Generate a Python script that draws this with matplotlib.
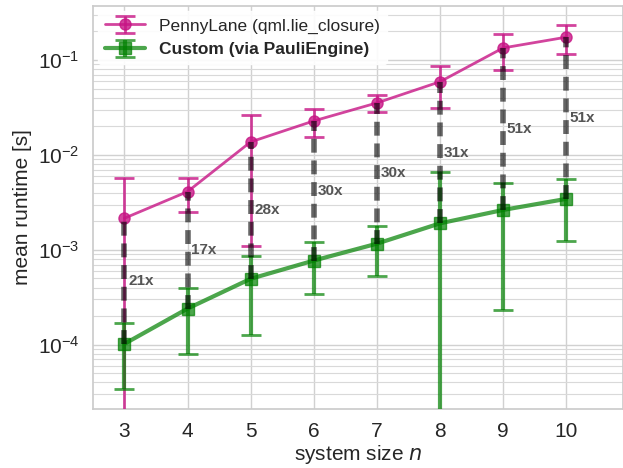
import numpy as np
import matplotlib
matplotlib.use("Agg")
import matplotlib.pyplot as plt
import seaborn as sns

sns.set_theme(style="whitegrid")
plt.rcParams['font.family'] = ['Liberation Sans', 'DejaVu Sans']

# system sizes
n = [3, 4, 5, 6, 7, 8, 9, 10]

# PennyLane (qml.lie_closure): mean and std of runtime [s]
pl_mean = [2.15e-3, 4.1e-3, 1.37e-2, 2.28e-2, 3.53e-2, 5.9e-2, 0.134, 0.174]
pl_std = [3.55e-3, 1.6e-3, 1.26e-2, 7.5e-3, 7.0e-3, 2.8e-2, 0.056, 0.059]

# Custom (via PauliEngine)
cu_mean = [1.02e-4, 2.4e-4, 4.95e-4, 7.7e-4, 1.16e-3, 1.9e-3, 2.63e-3, 3.44e-3]
cu_std = [6.8e-5, 1.6e-4, 3.68e-4, 4.3e-4, 6.3e-4, 4.7e-3, 2.4e-3, 2.2e-3]

fig = plt.figure(figsize=(6.23, 4.68), dpi=100)
ax = fig.add_axes([0.149, 0.126, 0.851, 0.861])

ax.errorbar(n, pl_mean, yerr=pl_std, color='mediumvioletred', alpha=0.8,
            marker='o', markersize=8, linewidth=2, elinewidth=2, capsize=7,
            capthick=2, label='PennyLane (qml.lie_closure)', zorder=3)
ax.errorbar(n, cu_mean, yerr=cu_std, color='green', alpha=0.7,
            marker='s', markersize=8, linewidth=3, elinewidth=3, capsize=7,
            capthick=2, label='Custom (via PauliEngine)', zorder=3)

# speedup markers
for x, a, b in zip(n, pl_mean, cu_mean):
    ax.plot([x, x], [b, a], color='black', alpha=0.6, linestyle='--',
            linewidth=4, dashes=(2.5, 1.4), zorder=4)
    ax.text(x + 0.06, np.sqrt(a * b), f"{round(a / b)}x", color='#555555',
            fontsize=11, fontweight='bold', va='center', ha='left', zorder=5)

ax.set_yscale('log')
ax.set_xlim(2.5, 10.9)
ax.set_ylim(2.1e-5, 0.37)
ax.set_xticks(n)
ax.grid(True, which='major', color='0.82', linewidth=1)
ax.grid(True, which='minor', axis='y', color='0.85', linewidth=0.8)
ax.tick_params(labelsize=15)
ax.set_xlabel('system size $n$', fontsize=15, labelpad=1)
ax.set_ylabel('mean runtime [s]', fontsize=15)

leg = ax.legend(loc='upper left', fontsize=12.5, frameon=True, facecolor='white',
                framealpha=0.9, edgecolor='white', handlelength=2.3,
                borderaxespad=0.3)
leg.get_texts()[1].set_fontweight('bold')

fig.savefig('out.png', dpi=100)
